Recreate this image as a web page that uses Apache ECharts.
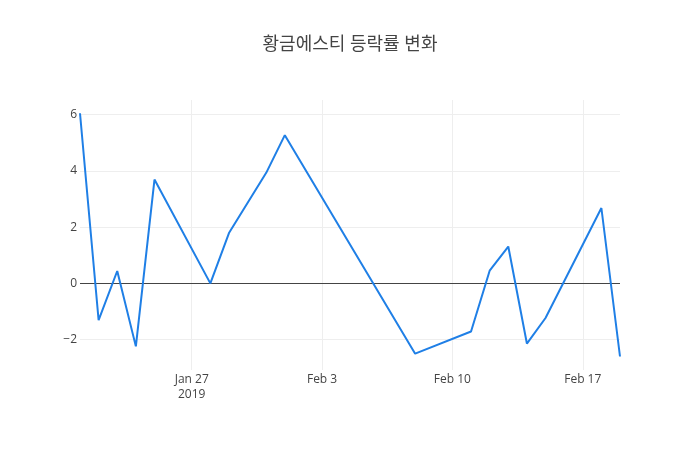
<!DOCTYPE html>
<html>
<head>
<meta charset="utf-8">
<script src="https://cdn.jsdelivr.net/npm/echarts@6/dist/echarts.min.js"></script>
<style>html,body{margin:0;padding:0;background:#fff}#c{width:700px;height:450px}</style>
</head>
<body>
<div id="c"></div>
<script>
const titleText = '황금에스티 등락률 변화';
const dates = ['2019-01-21','2019-01-22','2019-01-23','2019-01-24','2019-01-25','2019-01-28','2019-01-29','2019-01-31','2019-02-01','2019-02-08','2019-02-11','2019-02-12','2019-02-13','2019-02-14','2019-02-15','2019-02-18','2019-02-19'];
const values = [6.05,-1.31,0.44,-2.24,3.69,0.0,1.79,3.93,5.27,-2.5,-1.71,0.45,1.31,-2.14,-1.23,2.68,-2.6];
const xTickDates = ['2019-01-27','2019-02-03','2019-02-10','2019-02-17'];
const yTicks = [-2,0,2,4,6];
const xRange = ['2019-01-21','2019-02-19'];
const yRange = [-3.08, 6.52];

const months = ['Jan','Feb','Mar','Apr','May','Jun','Jul','Aug','Sep','Oct','Nov','Dec'];
function toTime(s){ const p = s.split('-').map(Number); return Date.UTC(p[0], p[1]-1, p[2]); }
const xTickVals = xTickDates.map(toTime);
const font = '"Open Sans", "Noto Sans CJK KR", sans-serif';

const chart = echarts.init(document.getElementById('c'), null, {renderer:'canvas'});
chart.setOption({
  animation: false,
  backgroundColor: '#fff',
  title: {
    text: titleText, left: 'center', top: 31,
    textStyle: {fontFamily: font, fontSize: 18, fontWeight: 'normal', color: '#444'}
  },
  grid: {left: 80, right: 80, top: 100, bottom: 80, containLabel: false},
  xAxis: {
    type: 'value',
    min: toTime(xRange[0]), max: toTime(xRange[1]),
    axisLine: {show: false},
    axisTick: {show: false, customValues: xTickVals},
    splitLine: {show: true, lineStyle: {color: '#eee', width: 1}},
    axisLabel: {
      customValues: xTickVals,
      margin: 2,
      color: '#444', fontFamily: font, fontSize: 12, lineHeight: 15,
      formatter: function(v){
        const d = new Date(v);
        let s = months[d.getUTCMonth()] + ' ' + d.getUTCDate();
        if (v === xTickVals[0]) s += '\n' + d.getUTCFullYear();
        return s;
      }
    }
  },
  yAxis: {
    type: 'value',
    min: yRange[0], max: yRange[1],
    axisLine: {show: false},
    axisTick: {show: false, customValues: yTicks},
    splitLine: {show: true, lineStyle: {color: '#eee', width: 1}},
    axisLabel: {
      customValues: yTicks,
      margin: 3,
      color: '#444', fontFamily: font, fontSize: 12,
      formatter: function(v){ return v < 0 ? '\u2212' + Math.abs(v) : String(v); }
    }
  },
  series: [{
    type: 'line',
    data: dates.map((d,i)=>[toTime(d), values[i]]),
    showSymbol: false,
    lineStyle: {color: '#1f7fe6', width: 2},
    itemStyle: {color: '#1f7fe6'},
    z: 3,
    markLine: {
      silent: true, symbol: 'none', animation: false,
      label: {show: false},
      lineStyle: {color: '#444', width: 1, type: 'solid'},
      data: [{yAxis: 0}],
      z: 2
    }
  }]
});
</script>
</body>
</html>
